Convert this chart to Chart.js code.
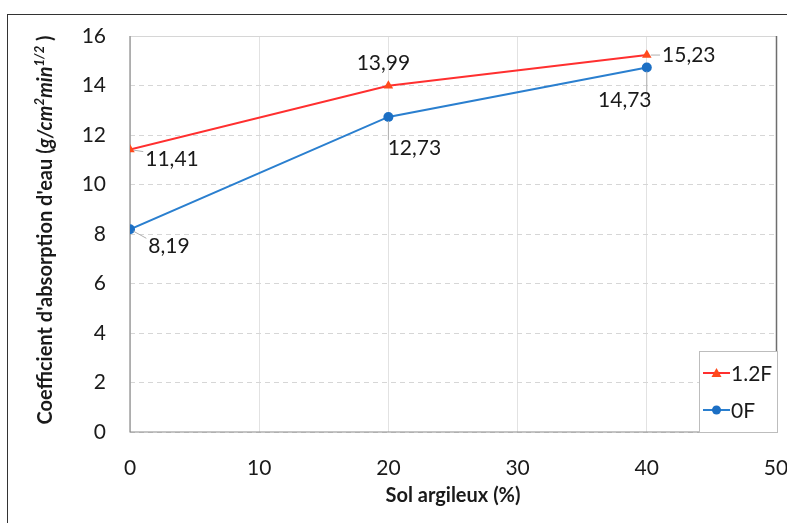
<!DOCTYPE html>
<html>
<head>
<meta charset="utf-8">
<script src="https://cdn.jsdelivr.net/npm/chart.js@4/dist/chart.umd.min.js"></script>
<style>
  html, body { margin: 0; padding: 0; background: #fff; overflow: hidden; }
  #wrap { position: relative; width: 787px; height: 523px; }
  #frame { position: absolute; left: 7px; top: 14px; width: 900px; height: 600px;
    border: 1.5px solid #333; box-sizing: border-box; pointer-events: none; }
  canvas { position: absolute; left: 0; top: 0; }
</style>
</head>
<body>
<div id="wrap">
  <canvas id="c" width="787" height="523"></canvas>
  <div id="frame"></div>
</div>
<script>
// Water absorption coefficient vs clay soil content.
const xValues = [0, 20, 40];
const series12F = [11.41, 13.99, 15.23];
const series0F = [8.19, 12.73, 14.73];
const seriesNames = ["1.2F", "0F"];

const RED = "#ff2f2f";
const RED_MARK = "#ff4a1c";
const BLUE = "#2a7fcf";
const BLUE_MARK = "#1c6fc4";
const FONT = "Lato, 'Open Sans', sans-serif";

// label offsets from the point (px) and whether Excel drew a leader line
const labelPlace = [
  [{ dx: 42, dy: 10, leader: true }, { dx: -5, dy: -23, leader: false }, { dx: 42, dy: 0, leader: true }],
  [{ dx: 39, dy: 17, leader: true }, { dx: 26, dy: 31, leader: true }, { dx: -22, dy: 33, leader: true }],
];

function pts(values) {
  return values.map((v, i) => ({ x: xValues[i], y: v }));
}

const fmt = (v) => v.toFixed(2).replace(".", ",");

const frameAndLabels = {
  id: "frameAndLabels",
  beforeDatasetsDraw(chart) {
    const { ctx, chartArea: a } = chart;
    ctx.save();
    ctx.lineWidth = 1;
    ctx.strokeStyle = "#d6d6d6";
    ctx.beginPath();
    ctx.moveTo(a.left, a.top + 0.5);
    ctx.lineTo(a.right, a.top + 0.5);
    ctx.stroke();
    ctx.strokeStyle = "#6e6e6e";
    ctx.lineWidth = 1.5;
    ctx.beginPath();
    ctx.moveTo(a.right + 0.5, a.top);
    ctx.lineTo(a.right + 0.5, a.bottom);
    ctx.stroke();
    ctx.strokeStyle = "#8a8a8a";
    ctx.lineWidth = 1.2;
    ctx.beginPath();
    ctx.moveTo(a.left, a.top);
    ctx.lineTo(a.left, a.bottom);
    ctx.lineTo(a.right, a.bottom);
    ctx.stroke();
    ctx.restore();
  },
  afterDatasetsDraw(chart) {
    const { ctx } = chart;
    ctx.save();
    ctx.font = "21px " + FONT;
    ctx.fillStyle = "#1a1a1a";
    ctx.textAlign = "center";
    ctx.textBaseline = "middle";
    chart.data.datasets.forEach((ds, di) => {
      const meta = chart.getDatasetMeta(di);
      meta.data.forEach((el, i) => {
        const p = labelPlace[di][i];
        const txt = fmt(ds.data[i].y);
        const lx = el.x + p.dx, ly = el.y + p.dy;
        if (p.leader) {
          const w = ctx.measureText(txt).width, h = 16;
          const ex = Math.max(lx - w / 2 - 2, Math.min(el.x, lx + w / 2 + 2));
          const ey = Math.max(ly - h / 2, Math.min(el.y, ly + h / 2));
          ctx.strokeStyle = "#b0b0b0";
          ctx.lineWidth = 1;
          ctx.beginPath();
          const ang = Math.atan2(ey - el.y, ex - el.x);
          ctx.moveTo(el.x + Math.cos(ang) * 4, el.y + Math.sin(ang) * 4);
          ctx.lineTo(ex, ey);
          ctx.stroke();
        }
        ctx.fillText(txt, lx, ly);
      });
    });

    // legend box
    const bx = 699, by = 351, bw = 78, bh = 81;
    ctx.fillStyle = "#fff";
    ctx.fillRect(bx, by, bw, bh);
    ctx.strokeStyle = "#bdbdbd";
    ctx.lineWidth = 1;
    ctx.strokeRect(bx + 0.5, by + 0.5, bw, bh);
    const rows = [
      { name: seriesNames[0], line: RED, mark: RED_MARK, tri: true, y: 373 },
      { name: seriesNames[1], line: BLUE, mark: BLUE_MARK, tri: false, y: 410 },
    ];
    rows.forEach((r) => {
      ctx.strokeStyle = r.line;
      ctx.lineWidth = 2;
      ctx.beginPath();
      ctx.moveTo(703, r.y);
      ctx.lineTo(730, r.y);
      ctx.stroke();
      ctx.fillStyle = r.mark;
      ctx.beginPath();
      if (r.tri) {
        ctx.moveTo(716.5, r.y - 5);
        ctx.lineTo(721.5, r.y + 4);
        ctx.lineTo(711.5, r.y + 4);
        ctx.closePath();
      } else {
        ctx.arc(716.5, r.y, 4.5, 0, Math.PI * 2);
      }
      ctx.fill();
      ctx.fillStyle = "#1a1a1a";
      ctx.font = "21px " + FONT;
      ctx.textAlign = "left";
      ctx.fillText(r.name, 731, r.y + 1);
    });

    // y axis title with italic unit and superscripts
    const parts = [
      { t: "Coefficient d'absorption d'eau (", f: "bold 20px " + FONT, up: 0 },
      { t: "g/cm", f: "italic bold 20px " + FONT, up: 0 },
      { t: "2", f: "italic bold 13px " + FONT, up: 6 },
      { t: "min", f: "italic bold 20px " + FONT, up: 0 },
      { t: "1/2", f: "italic bold 13px " + FONT, up: 6 },
      { t: " )", f: "bold 20px " + FONT, up: 0 },
    ];
    let total = 0;
    parts.forEach((p) => { ctx.font = p.f; p.w = ctx.measureText(p.t).width; total += p.w; });
    ctx.translate(46, 230);
    ctx.rotate(-Math.PI / 2);
    ctx.fillStyle = "#1a1a1a";
    ctx.textAlign = "left";
    ctx.textBaseline = "middle";
    let x = -total / 2;
    parts.forEach((p) => {
      ctx.font = p.f;
      ctx.fillText(p.t, x, -p.up);
      x += p.w;
    });
    ctx.restore();
  },
};

new Chart(document.getElementById("c"), {
  type: "scatter",
  data: {
    datasets: [
      {
        label: seriesNames[0],
        data: pts(series12F),
        showLine: true,
        borderColor: RED,
        borderWidth: 2,
        pointStyle: "triangle",
        pointRadius: 5.5,
        pointBackgroundColor: RED_MARK,
        pointBorderColor: RED_MARK,
        pointBorderWidth: 0,
      },
      {
        label: seriesNames[1],
        data: pts(series0F),
        showLine: true,
        borderColor: BLUE,
        borderWidth: 2,
        pointStyle: "circle",
        pointRadius: 5,
        pointBackgroundColor: BLUE_MARK,
        pointBorderColor: BLUE_MARK,
        pointBorderWidth: 0,
      },
    ],
  },
  options: {
    responsive: false,
    animation: false,
    layout: { padding: { left: 30, top: 36, right: 11, bottom: 0 } },
    plugins: { legend: { display: false }, tooltip: { enabled: false } },
    scales: {
      x: {
        type: "linear",
        min: 0,
        max: 50,
        afterFit: (s) => { s.height = 91; s.paddingLeft = 0; s.paddingRight = 0; },
        ticks: { stepSize: 10, padding: 24, color: "#1a1a1a", font: { family: FONT, size: 21 } },
        grid: { color: "#e2e2e2", drawTicks: false },
        border: { display: false },
        title: {
          display: true,
          text: "Sol argileux (%)",
          color: "#1a1a1a",
          font: { family: FONT, size: 20, weight: "bold" },
          padding: { top: 0, bottom: 15 },
        },
      },
      y: {
        min: 0,
        max: 16,
        afterFit: (s) => { s.width = 100; s.paddingTop = 0; s.paddingBottom = 0; },
        ticks: { stepSize: 2, padding: 24, color: "#1a1a1a", font: { family: FONT, size: 21 } },
        grid: { color: "#d6d6d6", drawTicks: false },
        border: { display: false, dash: [5, 4] },
      },
    },
  },
  plugins: [frameAndLabels],
});
</script>
</body>
</html>
